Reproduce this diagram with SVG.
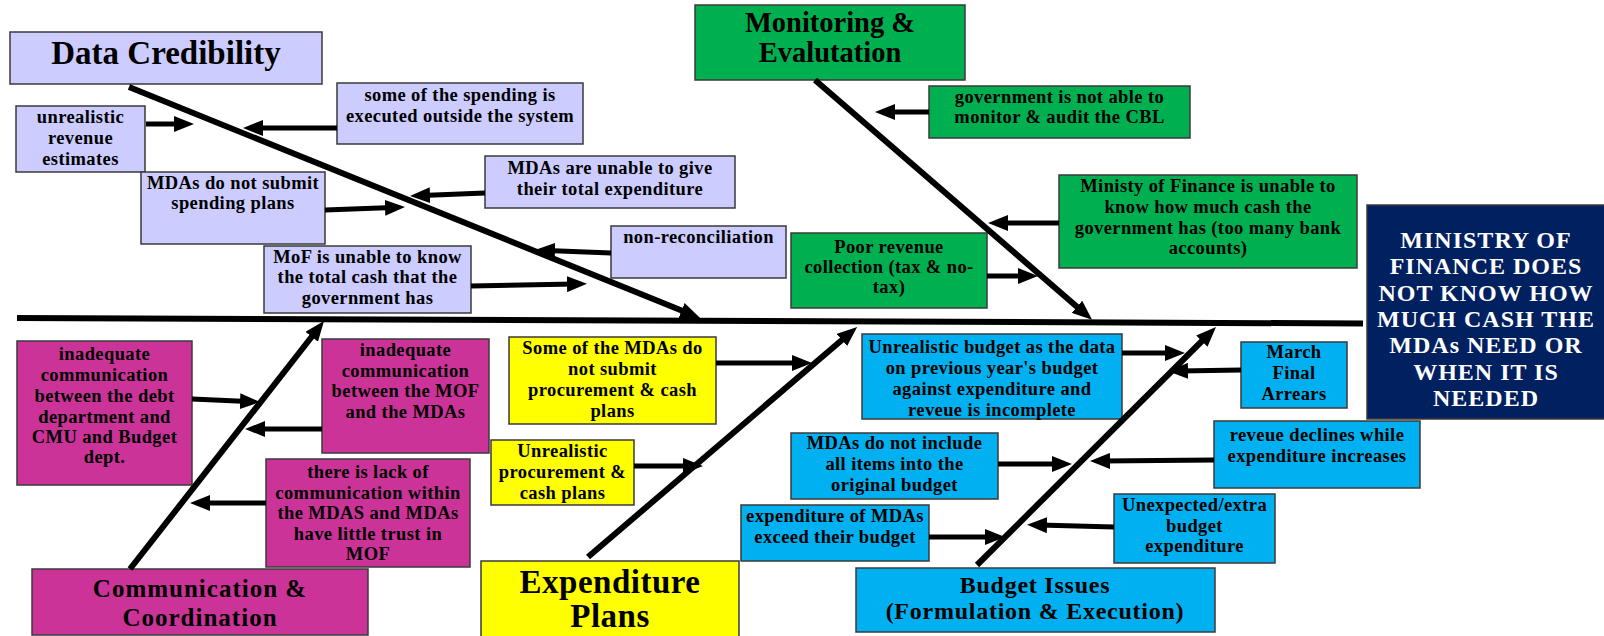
<svg xmlns="http://www.w3.org/2000/svg" width="1604" height="636" viewBox="0 0 1604 636">
<style>
.box{stroke:#3a3a3a;stroke-width:1.5}
.lav{fill:#CCCCFF}.grn{fill:#00B050}.mag{fill:#CC3399}.yel{fill:#FFFF00}.cya{fill:#00B0F0}.nav{fill:#002060}
.t{font-family:"Liberation Serif","Times New Roman",serif;font-weight:bold;font-size:18.5px;letter-spacing:0.4px;text-anchor:middle;fill:#000}
.h{font-family:"Liberation Serif","Times New Roman",serif;font-weight:bold;text-anchor:middle;fill:#000}
.w{fill:#fff;font-size:24px;letter-spacing:1px}
.bone{stroke:#000;stroke-width:6;fill:none}
.br{stroke:#000;stroke-width:5;fill:none}
</style>
<defs>
<marker id="ah" viewBox="0 0 20 16" markerWidth="20" markerHeight="16" markerUnits="userSpaceOnUse" refX="8" refY="8" orient="auto">
<path d="M0,0 L20,8 L0,16 z" fill="#000"/>
</marker>
</defs>
<rect width="1604" height="636" fill="#fff"/>

<g id="data-credibility"><rect class="box lav" x="10" y="32" width="312" height="52"/><text class="h" x="166" y="64" font-size="33">Data Credibility</text></g>
<g id="unrealistic-revenue"><rect class="box lav" x="16" y="106" width="129" height="66"/><text class="t" x="80.5" y="123">unrealistic</text><text class="t" x="80.5" y="144">revenue</text><text class="t" x="80.5" y="165">estimates</text></g>
<g id="spending-outside"><rect class="box lav" x="337" y="83" width="246" height="61"/><text class="t" x="460" y="101">some of the spending is</text><text class="t" x="460" y="122">executed outside the system</text></g>
<g id="mdas-no-plans"><rect class="box lav" x="141" y="172" width="184" height="72"/><text class="t" x="233" y="189">MDAs do not submit</text><text class="t" x="233" y="209">spending plans</text></g>
<g id="mdas-unable"><rect class="box lav" x="485" y="156" width="250" height="52"/><text class="t" x="610" y="174">MDAs are unable to give</text><text class="t" x="610" y="195">their total expenditure</text></g>
<g id="non-reconciliation"><rect class="box lav" x="611" y="226" width="175" height="52"/><text class="t" x="698.5" y="243">non-reconciliation</text></g>
<g id="mof-unable"><rect class="box lav" x="264" y="246" width="207" height="67"/><text class="t" x="367.5" y="263">MoF is unable to know</text><text class="t" x="367.5" y="283">the total cash that the</text><text class="t" x="367.5" y="304">government has</text></g>

<g id="monitoring"><rect class="box grn" x="695" y="5" width="270" height="75"/><text class="h" x="830" y="32" font-size="28.5">Monitoring &amp;</text><text class="h" x="830" y="62" font-size="28.5">Evalutation</text></g>
<g id="gov-not-able"><rect class="box grn" x="929" y="86" width="261" height="52"/><text class="t" x="1059.5" y="103">government is not able to</text><text class="t" x="1059.5" y="123">monitor &amp; audit the CBL</text></g>
<g id="ministy"><rect class="box grn" x="1059" y="175" width="298" height="93"/><text class="t" x="1208" y="192">Ministy of Finance is unable to</text><text class="t" x="1208" y="213">know how much cash the</text><text class="t" x="1208" y="234">government has (too many bank</text><text class="t" x="1208" y="254">accounts)</text></g>
<g id="poor-revenue"><rect class="box grn" x="791" y="233" width="196" height="75"/><text class="t" x="889" y="253">Poor revenue</text><text class="t" x="889" y="273">collection (tax &amp; no-</text><text class="t" x="889" y="293">tax)</text></g>

<g id="problem"><rect class="box nav" x="1367" y="205" width="240" height="214"/>
<text class="h w" x="1486" y="248">MINISTRY OF</text><text class="h w" x="1486" y="274.3">FINANCE DOES</text><text class="h w" x="1486" y="300.6">NOT KNOW HOW</text><text class="h w" x="1486" y="326.9">MUCH CASH THE</text><text class="h w" x="1486" y="353.2">MDAs NEED OR</text><text class="h w" x="1486" y="379.5">WHEN IT IS</text><text class="h w" x="1486" y="405.8">NEEDED</text></g>

<g id="comm-debt"><rect class="box mag" x="17" y="341" width="175" height="144"/><text class="t" x="104.5" y="360">inadequate</text><text class="t" x="104.5" y="381">communication</text><text class="t" x="104.5" y="402">between the debt</text><text class="t" x="104.5" y="423">department and</text><text class="t" x="104.5" y="443">CMU and Budget</text><text class="t" x="104.5" y="463">dept.</text></g>
<g id="comm-mof"><rect class="box mag" x="322" y="339" width="167" height="114"/><text class="t" x="405.5" y="356">inadequate</text><text class="t" x="405.5" y="377">communication</text><text class="t" x="405.5" y="397">between the MOF</text><text class="t" x="405.5" y="418">and the MDAs</text></g>
<g id="lack-comm"><rect class="box mag" x="266" y="459" width="204" height="108"/><text class="t" x="368" y="478">there is lack of</text><text class="t" x="368" y="499">communication within</text><text class="t" x="368" y="519">the MDAS and MDAs</text><text class="t" x="368" y="540">have little trust in</text><text class="t" x="368" y="560">MOF</text></g>
<g id="communication"><rect class="box mag" x="32" y="569" width="336" height="66"/><text class="h" x="200" y="597" font-size="25" letter-spacing="1">Communication &amp;</text><text class="h" x="200" y="626" font-size="25" letter-spacing="1">Coordination</text></g>

<g id="some-mdas"><rect class="box yel" x="509" y="337" width="207" height="87"/><text class="t" x="612.5" y="354">Some of the MDAs do</text><text class="t" x="612.5" y="375">not submit</text><text class="t" x="612.5" y="396">procurement &amp; cash</text><text class="t" x="612.5" y="417">plans</text></g>
<g id="unrealistic-proc"><rect class="box yel" x="491" y="440" width="143" height="65"/><text class="t" x="562.5" y="457">Unrealistic</text><text class="t" x="562.5" y="478">procurement &amp;</text><text class="t" x="562.5" y="499">cash plans</text></g>
<g id="expenditure-plans"><rect class="box yel" x="481" y="561" width="258" height="80"/><text class="h" x="610" y="593" font-size="33" letter-spacing="0.5">Expenditure</text><text class="h" x="610" y="627" font-size="33" letter-spacing="0.5">Plans</text></g>

<g id="unrealistic-budget"><rect class="box cya" x="862" y="334" width="260" height="85"/><text class="t" x="992" y="353">Unrealistic budget as the data</text><text class="t" x="992" y="374">on previous year's budget</text><text class="t" x="992" y="395">against expenditure and</text><text class="t" x="992" y="416">reveue is incomplete</text></g>
<g id="march"><rect class="box cya" x="1241" y="342" width="106" height="66"/><text class="t" x="1294" y="358">March</text><text class="t" x="1294" y="379">Final</text><text class="t" x="1294" y="400">Arrears</text></g>
<g id="not-include"><rect class="box cya" x="791" y="433" width="207" height="66"/><text class="t" x="894.5" y="449">MDAs do not include</text><text class="t" x="894.5" y="470">all items into the</text><text class="t" x="894.5" y="491">original budget</text></g>
<g id="revenue-declines"><rect class="box cya" x="1214" y="421" width="206" height="67"/><text class="t" x="1317" y="441">reveue declines while</text><text class="t" x="1317" y="462">expenditure increases</text></g>
<g id="unexpected"><rect class="box cya" x="1114" y="494" width="161" height="69"/><text class="t" x="1194.5" y="511">Unexpected/extra</text><text class="t" x="1194.5" y="532">budget</text><text class="t" x="1194.5" y="552">expenditure</text></g>
<g id="exceed"><rect class="box cya" x="741" y="505" width="188" height="56"/><text class="t" x="835" y="522">expenditure of MDAs</text><text class="t" x="835" y="543">exceed their budget</text></g>
<g id="budget-issues"><rect class="box cya" x="856" y="568" width="359" height="64"/><text class="h" x="1035" y="593" font-size="24" letter-spacing="0.75">Budget Issues</text><text class="h" x="1035" y="619" font-size="24" letter-spacing="0.75">(Formulation &amp; Execution)</text></g>

<g id="connectors">
<line class="bone" x1="17" y1="318" x2="1363" y2="323.5"/>
<line class="bone" x1="129" y1="87" x2="689" y2="313.5" marker-end="url(#ah)"/>
<line class="bone" x1="815" y1="80" x2="1083" y2="312" marker-end="url(#ah)"/>
<line class="bone" x1="130" y1="569" x2="316.6" y2="330.5" marker-end="url(#ah)"/>
<line class="bone" x1="588" y1="557" x2="848" y2="334.8" marker-end="url(#ah)"/>
<line class="bone" x1="977" y1="565" x2="1207.5" y2="335.5" marker-end="url(#ah)"/>
<line class="br" x1="146" y1="124" x2="182" y2="124" marker-end="url(#ah)"/>
<line class="br" x1="337" y1="128" x2="255" y2="128" marker-end="url(#ah)"/>
<line class="br" x1="325" y1="210" x2="393" y2="207.5" marker-end="url(#ah)"/>
<line class="br" x1="485" y1="193" x2="422" y2="195.5" marker-end="url(#ah)"/>
<line class="br" x1="611" y1="253" x2="547" y2="250.5" marker-end="url(#ah)"/>
<line class="br" x1="471" y1="286" x2="575" y2="284" marker-end="url(#ah)"/>
<line class="br" x1="929" y1="112" x2="887" y2="112" marker-end="url(#ah)"/>
<line class="br" x1="1059" y1="223" x2="1000" y2="223" marker-end="url(#ah)"/>
<line class="br" x1="987" y1="276" x2="1026" y2="276" marker-end="url(#ah)"/>
<line class="br" x1="192" y1="399" x2="248" y2="401.5" marker-end="url(#ah)"/>
<line class="br" x1="322" y1="429" x2="257" y2="429" marker-end="url(#ah)"/>
<line class="br" x1="266" y1="503" x2="202" y2="503" marker-end="url(#ah)"/>
<line class="br" x1="716" y1="363" x2="800" y2="363" marker-end="url(#ah)"/>
<line class="br" x1="634" y1="466" x2="691" y2="466" marker-end="url(#ah)"/>
<line class="br" x1="1122" y1="353" x2="1173" y2="353" marker-end="url(#ah)"/>
<line class="br" x1="1241" y1="370" x2="1180" y2="371" marker-end="url(#ah)"/>
<line class="br" x1="998" y1="464" x2="1060" y2="464" marker-end="url(#ah)"/>
<line class="br" x1="1214" y1="460" x2="1102" y2="461" marker-end="url(#ah)"/>
<line class="br" x1="1114" y1="527" x2="1039" y2="525" marker-end="url(#ah)"/>
<line class="br" x1="929" y1="537" x2="993" y2="537" marker-end="url(#ah)"/>
</g>
</svg>
